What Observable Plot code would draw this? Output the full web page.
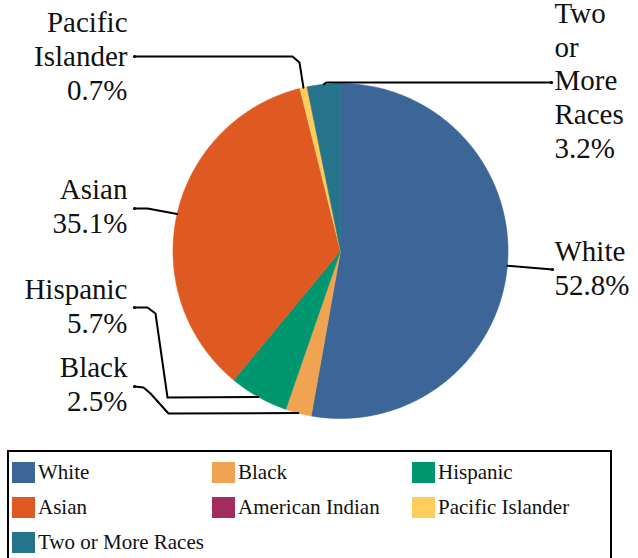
<!DOCTYPE html>
<html>
<head>
<meta charset="utf-8">
<script src="https://cdn.jsdelivr.net/npm/d3@7"></script>
<script src="https://cdn.jsdelivr.net/npm/@observablehq/plot@0.6"></script>
<style>
  body { margin: 0; background: #fff; font-family: "Liberation Serif", "Times New Roman", Tinos, "DejaVu Serif", serif; overflow: hidden; }
  #chart svg { display: block; }
  #legend {
    position: relative; margin-left: 7px; width: 601px; height: 130px;
    border: 2px solid #000; box-sizing: content-box;
  }
  .item { position: absolute; display: flex; align-items: center; font-size: 21px; color: #111; white-space: nowrap; }
  .sw { width: 23px; height: 21px; margin-right: 3px; flex: none; }
</style>
</head>
<body>
<div id="chart"></div>
<div id="legend"></div>
<script>
// ---- data ----
const categories = ["White", "Black", "Hispanic", "Asian", "American Indian", "Pacific Islander", "Two or More Races"];
const values = [52.8, 2.5, 5.7, 35.1, 0, 0.7, 3.2];
const colors = ["#3c6698", "#f0a452", "#00966f", "#de5a22", "#a32b5e", "#ffcd5c", "#26748b"];

// ---- layout (pixels) ----
const W = 638, H = 450;
const cx = 340, cy = 250.5, R = 167.5;
const FONT = '"Liberation Serif", "Times New Roman", Tinos, "DejaVu Serif", serif';
const labelLayout = {
  "White":             {anchor: "start", x: 554, baseline: 294, path: [[552, 269]]},
  "Black":             {anchor: "end",   x: 127, baseline: 410, path: [[168, 413], [150, 393], [143, 387], [134, 386]]},
  "Hispanic":          {anchor: "end",   x: 127, baseline: 332, path: [[167, 397], [155, 313], [147, 307], [134, 307]]},
  "Asian":             {anchor: "end",   x: 127, baseline: 232, path: [[147, 208], [134, 208]]},
  "Pacific Islander":  {anchor: "end",   x: 127, baseline: 99,  path: [[299, 62], [292, 56], [134, 56]]},
  "Two or More Races": {anchor: "start", x: 554, baseline: 157, path: [[326, 82], [551, 82]]}
};

const rows = categories.map((c, i) => ({category: c, value: values[i], color: colors[i]}));
const arcs = d3.pie().sort(null).value(d => d.value).startAngle(0).endAngle(2 * Math.PI)(rows);

const pt = (a, r = R) => ({x: cx + r * Math.sin(a), y: cy - r * Math.cos(a)});

const sliceMarks = arcs.filter(a => a.endAngle > a.startAngle).map(a => {
  const n = Math.max(2, Math.ceil((a.endAngle - a.startAngle) / 0.01));
  const pts = [{x: cx, y: cy}];
  for (let k = 0; k <= n; k++) pts.push(pt(a.startAngle + (a.endAngle - a.startAngle) * k / n));
  pts.push({x: cx, y: cy});
  return Plot.line(pts, {x: "x", y: "y", fill: a.data.color, stroke: a.data.color, strokeWidth: 0.6, curve: "linear"});
});

const leaderMarks = [];
const endDots = [];
const labels = [];
arcs.forEach(a => {
  const L = labelLayout[a.data.category];
  if (!L) return;
  const mid = (a.startAngle + a.endAngle) / 2;
  const pts = [pt(mid), ...L.path.map(([x, y]) => ({x, y}))];
  leaderMarks.push(Plot.line(pts, {x: "x", y: "y", stroke: "#000", strokeWidth: 2, curve: "linear"}));
  endDots.push(pts[pts.length - 1]);
  labels.push({
    text: a.data.category.split(" ").join("\n") + "\n" + a.data.value.toFixed(1) + "%",
    x: L.x, y: L.baseline, anchor: L.anchor
  });
});

const chart = Plot.plot({
  width: W, height: H, margin: 0,
  x: {domain: [0, W], range: [0, W], axis: null},
  y: {domain: [0, H], range: [0, H], axis: null},
  style: {fontFamily: FONT, background: "#fff"},
  marks: [
    ...sliceMarks,
    ...leaderMarks,
    Plot.dot(endDots, {x: "x", y: "y", r: 1.6, fill: "#000"}),
    Plot.text(labels.filter(d => d.anchor === "end"), {x: "x", y: "y", text: "text", textAnchor: "end", lineAnchor: "bottom", lineHeight: 1.16, fontSize: 29, fontFamily: FONT, fill: "#111"}),
    Plot.text(labels.filter(d => d.anchor === "start"), {x: "x", y: "y", text: "text", textAnchor: "start", lineAnchor: "bottom", lineHeight: 1.16, fontSize: 29, fontFamily: FONT, fill: "#111"})
  ]
});
document.getElementById("chart").appendChild(chart);

// ---- legend ----
const legend = document.getElementById("legend");
const colX = [3, 203, 403], rowY = [8, 43, 78];
categories.forEach((c, i) => {
  const el = document.createElement("div");
  el.className = "item";
  el.style.left = colX[i % 3] + "px";
  el.style.top = rowY[Math.floor(i / 3)] + "px";
  el.innerHTML = `<span class="sw" style="background:${colors[i]}"></span><span>${c}</span>`;
  legend.appendChild(el);
});
</script>
</body>
</html>
